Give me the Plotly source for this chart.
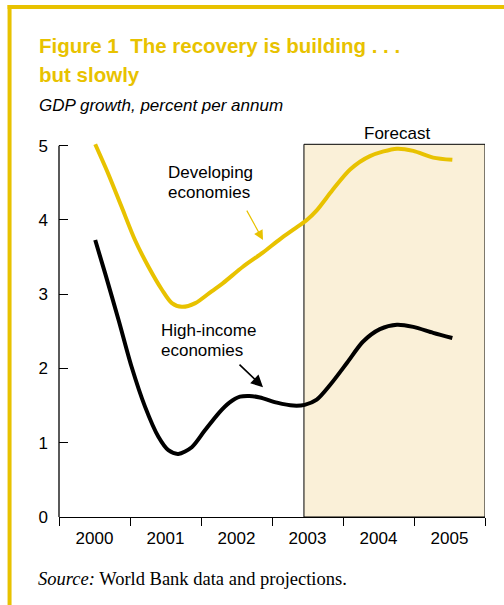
import plotly.graph_objects as go

# ---- data ----
dev_x = [2000.51, 2000.69, 2000.88, 2001.07, 2001.26, 2001.45, 2001.59, 2001.73, 2001.92,
         2002.15, 2002.31, 2002.59, 2002.87, 2003.11, 2003.30, 2003.49, 2003.63, 2003.85,
         2004.10, 2004.38, 2004.76, 2004.99, 2005.27, 2005.54]
dev_y = [5.02, 4.63, 4.18, 3.73, 3.37, 3.06, 2.88, 2.83, 2.88,
         3.04, 3.15, 3.37, 3.56, 3.74, 3.87, 4.00, 4.13, 4.40,
         4.68, 4.86, 4.96, 4.93, 4.84, 4.81]

hi_x = [2000.51, 2000.65, 2000.84, 2001.02, 2001.21, 2001.40, 2001.54, 2001.68, 2001.87,
        2002.05, 2002.25, 2002.40, 2002.55, 2002.68, 2002.83, 2003.07, 2003.30, 2003.46,
        2003.63, 2003.82, 2004.06, 2004.28, 2004.52, 2004.76, 2004.99, 2005.27, 2005.54]
hi_y = [3.73, 3.28, 2.65, 2.03, 1.49, 1.08, 0.90, 0.85, 0.94,
        1.16, 1.40, 1.54, 1.62, 1.63, 1.61, 1.54, 1.50, 1.51,
        1.58, 1.78, 2.08, 2.36, 2.53, 2.59, 2.56, 2.48, 2.41]

years = [2000, 2001, 2002, 2003, 2004, 2005]
year_labels = ["2000", "2001", "2002", "2003", "2004", "2005"]
y_ticks = [0, 1, 2, 3, 4, 5]
forecast_start = 2003.45
forecast_end = 2006

YELLOW = "#E8C200"
SANS = "Liberation Sans, Arial, Helvetica, sans-serif"
SERIF = "Liberation Serif, Times New Roman, serif"

# ---- pixel geometry helpers (for paper-positioned decorations) ----
L, R, T, B = 59, 485.5, 142, 516.7
W, H = R - L, B - T
def px(x):
    return (x - L) / W
def py(y):
    return (B - y) / H

fig = go.Figure()

fig.add_trace(go.Scatter(x=dev_x, y=dev_y, mode="lines",
                         line=dict(color=YELLOW, width=4, shape="spline", smoothing=0.8),
                         showlegend=False, hoverinfo="skip"))
fig.add_trace(go.Scatter(x=hi_x, y=hi_y, mode="lines",
                         line=dict(color="black", width=4, shape="spline", smoothing=0.8),
                         showlegend=False, hoverinfo="skip"))

shapes = [
    # forecast box
    dict(type="rect", xref="x", yref="paper", x0=forecast_start, x1=forecast_end,
         y0=0, y1=py(144.3), fillcolor="#FAF0D8", line=dict(color="black", width=1),
         layer="below"),
    # y axis line (0..5)
    dict(type="line", xref="paper", yref="y", x0=0, x1=0, y0=0, y1=5,
         line=dict(color="black", width=1.3)),
    # yellow frame
    dict(type="line", xref="paper", yref="paper", x0=px(9.5), x1=px(9.5),
         y0=py(5), y1=py(610), line=dict(color=YELLOW, width=4)),
    dict(type="line", xref="paper", yref="paper", x0=px(7.5), x1=px(510),
         y0=py(7), y1=py(7), line=dict(color=YELLOW, width=4)),
]

annotations = [
    dict(text="<b>Figure 1  The recovery is building . . .</b>", x=px(37), y=py(46),
         font=dict(family=SANS, size=20.5, color=YELLOW)),
    dict(text="<b>but slowly</b>", x=px(37), y=py(75),
         font=dict(family=SANS, size=20.5, color=YELLOW)),
    dict(text="<i>GDP growth, percent per annum</i>", x=px(37), y=py(106),
         font=dict(family=SANS, size=17, color="black")),
    dict(text="Forecast", x=px(397), y=py(134), xanchor="center",
         font=dict(family=SANS, size=17, color="black")),
    dict(text="Developing", x=px(166), y=py(172),
         font=dict(family=SANS, size=17, color="black")),
    dict(text="economies", x=px(166), y=py(192),
         font=dict(family=SANS, size=17, color="black")),
    dict(text="High-income", x=px(159), y=py(330),
         font=dict(family=SANS, size=17, color="black")),
    dict(text="economies", x=px(159), y=py(350),
         font=dict(family=SANS, size=17, color="black")),
    dict(text="<i>Source:</i> World Bank data and projections.", x=px(36), y=py(579),
         font=dict(family=SERIF, size=18.5, color="black")),
]
for a in annotations:
    a.setdefault("xanchor", "left")
    a.update(xref="paper", yref="paper", yanchor="middle", showarrow=False)

# arrows
annotations.append(dict(x=2000 + (263 - 59) / 71, y=(516.7 - 240) / 74.2, xref="x", yref="y",
                        text="", showarrow=True, ax=-17, ay=-31, arrowhead=2, arrowsize=1.6,
                        arrowwidth=1.2, arrowcolor=YELLOW))
annotations.append(dict(x=2000 + (263 - 59) / 71, y=(516.7 - 387) / 74.2, xref="x", yref="y",
                        text="", showarrow=True, ax=-25, ay=-24, arrowhead=2, arrowsize=1.5,
                        arrowwidth=1.6, arrowcolor="black"))

fig.update_layout(
    width=504, height=605,
    margin=dict(l=L, r=504 - R, t=T, b=605 - B, pad=0),
    paper_bgcolor="white", plot_bgcolor="white",
    shapes=shapes, annotations=annotations,
    font=dict(family=SANS, size=17, color="black"),
    xaxis=dict(range=[2000, 2006], showgrid=False, zeroline=False,
               showline=True, linecolor="black", linewidth=1.3,
               tickmode="array", tickvals=[y + 0.5 for y in years], ticktext=year_labels,
               ticks="", tickfont=dict(family=SANS, size=17),
               ticklabelstandoff=5,
               minor=dict(tick0=2000, dtick=1, ticks="outside", ticklen=8,
                          tickcolor="black", tickwidth=1.3, showgrid=False)),
    yaxis=dict(range=[0, 5.05], showgrid=False, zeroline=False, showline=False,
               tickmode="array", tickvals=y_ticks, ticks="inside", ticklen=9,
               tickcolor="black", tickwidth=1.3, tickfont=dict(family=SANS, size=17),
               ticklabelstandoff=10),
)

fig.write_html("out.html")
